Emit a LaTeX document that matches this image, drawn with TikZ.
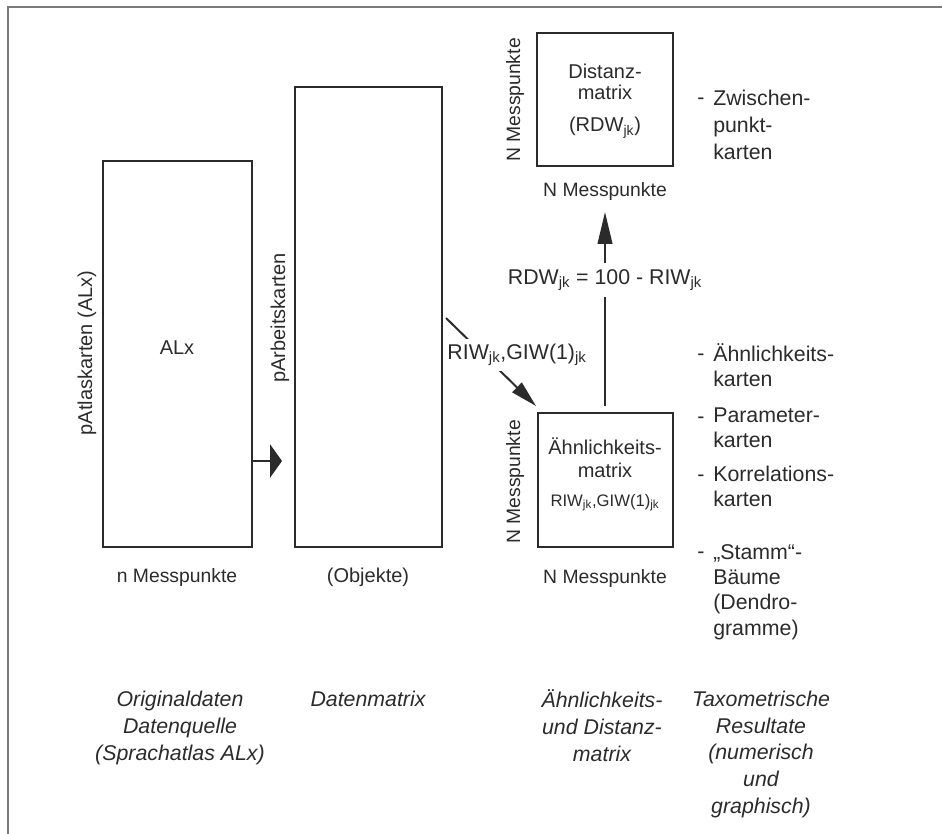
\documentclass[tikz,border=0pt]{standalone}
\usepackage{fontspec}
\setmainfont{Liberation Sans}
\usetikzlibrary{arrows.meta}
\definecolor{ink}{HTML}{2B2B2B}
\definecolor{framegray}{HTML}{7A7A7A}

\begin{document}
\begin{tikzpicture}[x=0.75pt, y=-0.75pt,
    every node/.style={text=ink, inner sep=0pt},
    mbox/.style={draw=ink, line width=1.5pt},
    txt/.style={font=\fontsize{15}{15.75}\selectfont, align=center},
    mess/.style={font=\fontsize{14.5}{17}\selectfont},
    capt/.style={font=\fontsize{16}{20}\selectfont\itshape, align=center, anchor=base},
    res/.style={font=\fontsize{16}{18.75}\selectfont, align=left, anchor=base west},
    link/.style={draw=ink, line width=1.5pt}
  ]
  \useasboundingbox (0,0) rectangle (942,834);
  \draw[framegray, line width=1.5pt] (8,834) -- (8,7) -- (942,7);

  % the four matrices
  \node[mbox, minimum width=111.75pt, minimum height=289.5pt] (alx) at (177.5,354) {};
  \node[mbox, minimum width=110.25pt, minimum height=345pt] (arb) at (368.5,317) {};
  \node[mbox, minimum width=102pt, minimum height=99.75pt] (dist) at (605,99.5) {};
  \node[mbox, minimum width=101.25pt, minimum height=100.5pt] (aehn) at (605.5,480) {};

  % texts in and round the matrices (base = last line)
  \node[txt, anchor=base] (alxtxt) at (177,354) {ALx};
  \node[txt, rotate=90] (plx) at (87,353) {pAtlaskarten (ALx)};
  \node[txt, rotate=90] (parb) at (280,318) {pArbeitskarten};
  \node[mess] (nmess) at (177,577) {n Messpunkte};
  \node[txt] (obj) at (368,577) {(Objekte)};
  \node[txt, anchor=base] (disttxt) at (605,132)
    {Distanz-\\matrix\\[8.25pt](RDW\textsubscript{jk})};
  \node[mess, rotate=90] (distl) at (515,100) {N Messpunkte};
  \node[mess] (distb) at (605,192) {N Messpunkte};
  \node[txt, anchor=base] (aehntxt) at (605,506)
    {Ähnlichkeits-\\[1.5pt]matrix\\[6pt]{\fontsize{12.5}{13}\selectfont RIW\textsubscript{jk},GIW(1)\textsubscript{jk}}};
  \node[mess, rotate=90] (aehnl) at (515,482) {N Messpunkte};
  \node[mess] (aehnb) at (605,578) {N Messpunkte};

  % connectors
  \coordinate (a0) at (alx.east |- 0,461);
  \coordinate (a1) at (282,461);
  \draw[link, -{Triangle[length=9pt,width=25pt]}] (a0) -- (a1);

  \coordinate (d0) at (446,318);
  \coordinate (d1) at (536,406);
  \draw[link, -{Triangle[length=20pt,width=10pt]}] (d0) -- (d1);
  \node[fill=white, inner xsep=2pt, inner ysep=4pt, font=\fontsize{16}{18}\selectfont]
    (riw) at (517,355) {RIW\textsubscript{jk},GIW(1)\textsubscript{jk}};

  \coordinate (u0) at (605,406);
  \coordinate (u1) at (605,212);
  \draw[link, -{Triangle[length=24pt,width=11pt]}] (u0) -- (u1);
  \node[fill=white, inner xsep=2pt, inner ysep=5pt, font=\fontsize{16}{18}\selectfont]
    (rdw) at (605,280) {RDW\textsubscript{jk} = 100 - RIW\textsubscript{jk}};

  % taxometric results: dash at first line, text by its last line
  \foreach \n/\y/\z/\t in {1/105/160/{Zwischen-\\[1.5pt]punkt-\\[1.5pt]karten},
      2/360/386/{Ähnlichkeits-\\karten}, 3/423/447/{Parameter-\\karten},
      4/481/506/{Korrelations-\\karten},
      5/558/635/{„Stamm“-\\Bäume\\(Dendro-\\[0.75pt]gramme)}} {
    \node[res] (dash\n) at (697,\y) {-};
    \node[res] (res\n) at (713,\z) {\t};
  }

  % captions
  \node[capt] (c1) at (180,760) {Originaldaten\\Datenquelle\\(Sprachatlas ALx)};
  \node[capt] (c2) at (368,706) {Datenmatrix};
  \node[capt] (c3) at (602,761) {Ähnlichkeits-\\und Distanz-\\matrix};
  \node[capt] (c4) at (761,813) {Taxometrische\\Resultate\\(numerisch\\und\\graphisch)};
\end{tikzpicture}
\end{document}
